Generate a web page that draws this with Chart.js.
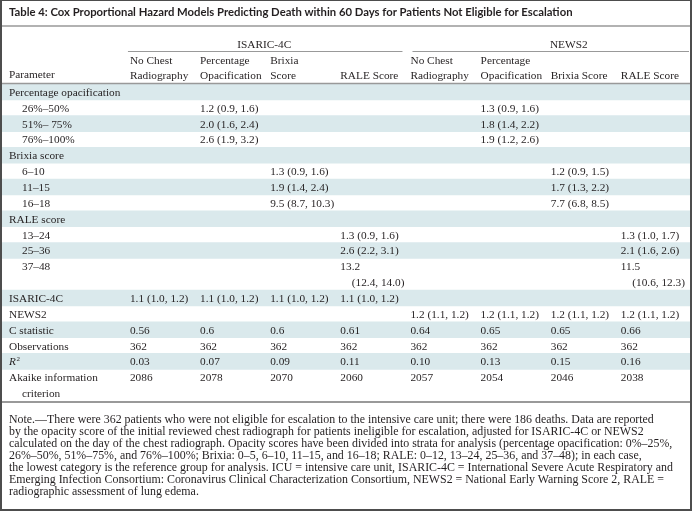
<!DOCTYPE html>
<html>
<head>
<meta charset="utf-8">
<script src="https://cdn.jsdelivr.net/npm/chart.js@4.4.1/dist/chart.umd.min.js"></script>
<style>
  html, body { margin: 0; padding: 0; background: #fff; }
  #wrap { position: relative; width: 692px; height: 511px; overflow: hidden; }
  #c { position: absolute; left: 0; top: 0; }
  #frame { position: absolute; left: 0; top: 0; width: 692px; height: 511px; box-sizing: border-box;
           border: 2px solid #4d4d4d; border-top-width: 1px; pointer-events: none; }
  #title { position: absolute; left: 9px; top: 5px; font: bold 11.3px Lato; color: #231f20; white-space: nowrap; }
  #note { position: absolute; left: 9px; top: 413px; font: 11.9px "Liberation Serif"; line-height: 12px;
          color: #231f20; white-space: nowrap; }
</style>
</head>
<body>
<div id="wrap">
  <canvas id="c" width="692" height="511"></canvas>
  <div id="title">Table 4: Cox Proportional Hazard Models Predicting Death within 60 Days for Patients Not Eligible for Escalation</div>
  <div id="note">Note.—There were 362 patients who were not eligible for escalation to the intensive care unit; there were 186 deaths. Data are reported<br>by the opacity score of the initial reviewed chest radiograph for patients ineligible for escalation, adjusted for ISARIC-4C or NEWS2<br>calculated on the day of the chest radiograph. Opacity scores have been divided into strata for analysis (percentage opacification: 0%–25%,<br>26%–50%, 51%–75%, and 76%–100%; Brixia: 0–5, 6–10, 11–15, and 16–18; RALE: 0–12, 13–24, 25–36, and 37–48); in each case,<br>the lowest category is the reference group for analysis. ICU = intensive care unit, ISARIC-4C = International Severe Acute Respiratory and<br>Emerging Infection Consortium: Coronavirus Clinical Characterization Consortium, NEWS2 = National Early Warning Score 2, RALE =<br>radiographic assessment of lung edema.</div>
  <div id="frame"></div>
</div>
<script>
// one entry per printed line of the table body
const lineLabels = [
  'Percentage opacification', '26%–50%', '51%– 75%', '76%–100%',
  'Brixia score', '6–10', '11–15', '16–18',
  'RALE score', '13–24', '25–36', '37–48', '',
  'ISARIC-4C', 'NEWS2', 'C statistic', 'Observations', 'R²',
  'Akaike information', 'criterion'
];
const indentLines = [1, 2, 3, 5, 6, 7, 9, 10, 11, 19];
const wrappedLines = [12, 19];
const shadedLines = [0, 2, 4, 6, 8, 10, 13, 15, 17];

const modelGroups = ['ISARIC-4C', 'NEWS2'];
const headTop = ['No Chest', 'Percentage', 'Brixia', '', 'No Chest', 'Percentage', '', ''];
const headBottom = ['Radiography', 'Opacification', 'Score', 'RALE Score', 'Radiography', 'Opacification', 'Brixia Score', 'RALE Score'];

const isaricNone = ['', '', '', '', '', '', '', '', '', '', '', '', '', '1.1 (1.0, 1.2)', '', '0.56', '362', '0.03', '2086', ''];
const isaricPct = ['', '1.2 (0.9, 1.6)', '2.0 (1.6, 2.4)', '2.6 (1.9, 3.2)', '', '', '', '', '', '', '', '', '', '1.1 (1.0, 1.2)', '', '0.6', '362', '0.07', '2078', ''];
const isaricBrixia = ['', '', '', '', '', '1.3 (0.9, 1.6)', '1.9 (1.4, 2.4)', '9.5 (8.7, 10.3)', '', '', '', '', '', '1.1 (1.0, 1.2)', '', '0.6', '362', '0.09', '2070', ''];
const isaricRale = ['', '', '', '', '', '', '', '', '', '1.3 (0.9, 1.6)', '2.6 (2.2, 3.1)', '13.2', '(12.4, 14.0)', '1.1 (1.0, 1.2)', '', '0.61', '362', '0.11', '2060', ''];
const news2None = ['', '', '', '', '', '', '', '', '', '', '', '', '', '', '1.2 (1.1, 1.2)', '0.64', '362', '0.10', '2057', ''];
const news2Pct = ['', '1.3 (0.9, 1.6)', '1.8 (1.4, 2.2)', '1.9 (1.2, 2.6)', '', '', '', '', '', '', '', '', '', '', '1.2 (1.1, 1.2)', '0.65', '362', '0.13', '2054', ''];
const news2Brixia = ['', '', '', '', '', '1.2 (0.9, 1.5)', '1.7 (1.3, 2.2)', '7.7 (6.8, 8.5)', '', '', '', '', '', '', '1.2 (1.1, 1.2)', '0.65', '362', '0.15', '2046', ''];
const news2Rale = ['', '', '', '', '', '', '', '', '', '1.3 (1.0, 1.7)', '2.1 (1.6, 2.6)', '11.5', '(10.6, 12.3)', '', '1.2 (1.1, 1.2)', '0.66', '362', '0.16', '2038', ''];

const columns = [isaricNone, isaricPct, isaricBrixia, isaricRale, news2None, news2Pct, news2Brixia, news2Rale];

const ink = '#231f20';
const ruleColor = '#999999';
const shade = '#dae9ec';
const bodyFont = '11.3px "Liberation Serif"';
const xMin = -1.81, xMax = 8;

const tableText = {
  id: 'tableText',
  afterDatasetsDraw(chart) {
    const { ctx, chartArea, scales: { x, y } } = chart;
    ctx.save();
    ctx.strokeStyle = ruleColor;

    // horizontal rules
    const rule = (x1, x2, yy, w) => {
      ctx.lineWidth = w;
      ctx.beginPath();
      ctx.moveTo(x1, yy);
      ctx.lineTo(x2, yy);
      ctx.stroke();
    };
    rule(chartArea.left, chartArea.right, 26, 1.5);
    rule(chartArea.left, chartArea.right, chartArea.top - 0.5, 1.5);
    rule(chartArea.left, chartArea.right, chartArea.bottom + 1, 2);
    rule(x.getPixelForValue(0) - 1, x.getPixelForValue(4) - 7, 51.5, 1);
    rule(x.getPixelForValue(4) + 3, x.getPixelForValue(8) - 1, 51.5, 1);

    ctx.fillStyle = ink;
    ctx.font = bodyFont;
    ctx.textBaseline = 'alphabetic';

    // group labels
    ctx.textAlign = 'center';
    const groupShift = [-5, 19];
    modelGroups.forEach((g, i) => {
      const cx = (x.getPixelForValue(i * 4) + x.getPixelForValue(i * 4 + 4)) / 2 + groupShift[i];
      ctx.fillText(g, cx, 47.5);
    });

    // column heads
    ctx.textAlign = 'left';
    ctx.fillText('Parameter', chartArea.left + 7, 77.5);
    headBottom.forEach((h, i) => {
      const hx = x.getPixelForValue(i) + 1;
      if (headTop[i]) ctx.fillText(headTop[i], hx, 63.5);
      ctx.fillText(h, hx, 78.5);
    });

    // body
    lineLabels.forEach((lab, i) => {
      const cy = y.getPixelForValue(i) + 4;
      ctx.textAlign = 'left';
      const lx = chartArea.left + (indentLines.includes(i) ? 20 : 7);
      if (lab === 'R²') {
        ctx.font = 'italic ' + bodyFont;
        ctx.fillText('R', lx, cy);
        const w = ctx.measureText('R').width;
        ctx.font = '7px "Liberation Serif"';
        ctx.fillText('2', lx + w + 0.5, cy - 4);
        ctx.font = bodyFont;
      } else {
        ctx.fillText(lab, lx, cy);
      }
      columns.forEach((col, c) => {
        const v = col[i];
        if (!v) return;
        if (wrappedLines.includes(i)) {
          ctx.textAlign = 'right';
          ctx.fillText(v, x.getPixelForValue(c + 1) - 5, cy);
        } else {
          ctx.textAlign = 'left';
          ctx.fillText(v, x.getPixelForValue(c) + 1, cy);
        }
      });
    });
    ctx.restore();
  }
};

new Chart(document.getElementById('c'), {
  type: 'bar',
  data: {
    labels: lineLabels,
    datasets: [{
      data: lineLabels.map((_, i) => shadedLines.includes(i) ? [xMin, xMax] : null),
      backgroundColor: shade,
      borderWidth: 0,
      barPercentage: 1,
      categoryPercentage: 1
    }]
  },
  options: {
    indexAxis: 'y',
    responsive: false,
    devicePixelRatio: 1,
    animation: false,
    layout: { padding: { left: 2, right: 2, top: 84, bottom: 110 } },
    plugins: { legend: { display: false }, tooltip: { enabled: false } },
    scales: {
      x: { type: 'linear', min: xMin, max: xMax, display: false },
      y: { type: 'category', display: false }
    }
  },
  plugins: [tableText]
});
</script>
</body>
</html>
